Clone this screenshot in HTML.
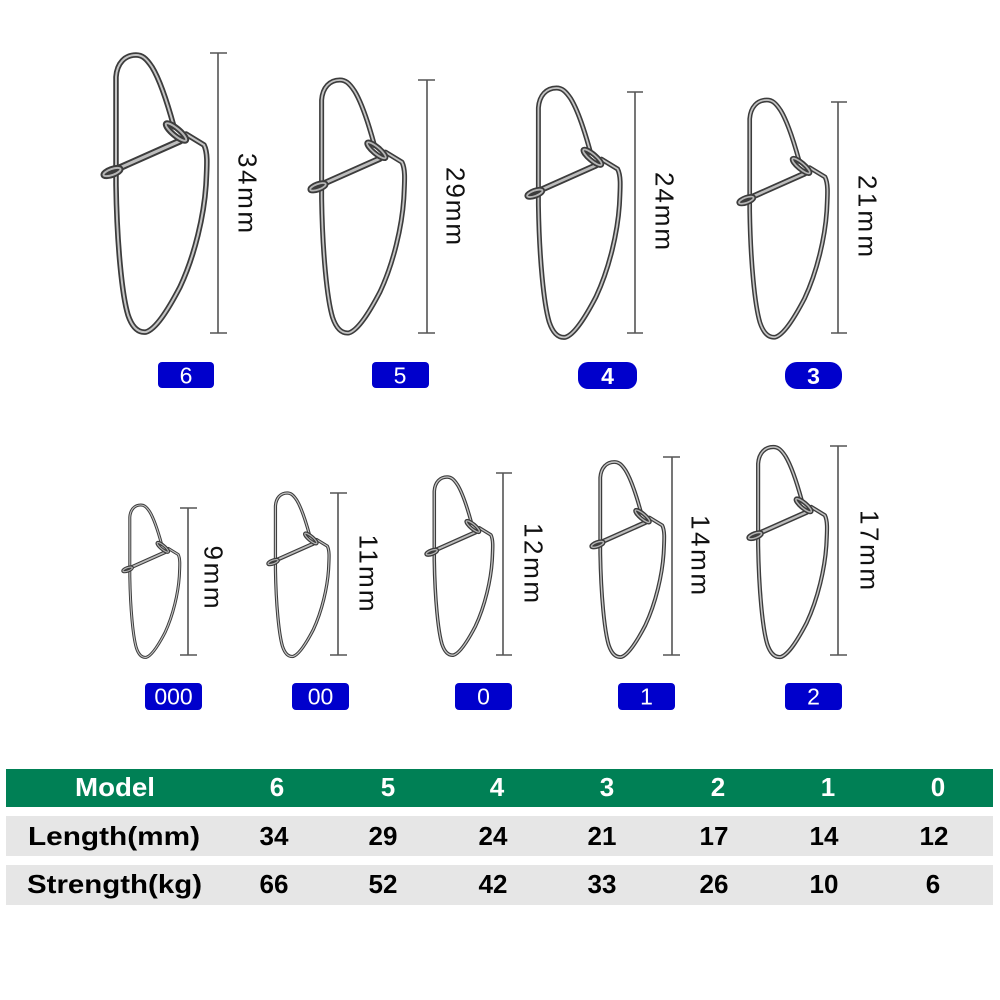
<!DOCTYPE html>
<html>
<head>
<meta charset="utf-8">
<style>
html,body{margin:0;padding:0;background:#fff;}
body{width:1000px;height:1000px;overflow:hidden;}
svg{display:block;}
.lbl{font-family:"Liberation Sans",sans-serif;font-size:26px;fill:#111;}
.bt{font-family:"Liberation Sans",sans-serif;font-size:23px;fill:#fff;}
.th{font-family:"Liberation Sans",sans-serif;font-size:26px;font-weight:bold;fill:#fff;}
.td{font-family:"Liberation Sans",sans-serif;font-size:26px;font-weight:bold;fill:#000;}
</style>
</head>
<body>
<svg width="1000" height="1000" viewBox="0 0 1000 1000" xmlns="http://www.w3.org/2000/svg">
<defs>
  <g id="wire">
    <path d="M74,72 C68,50 60,25 52,12 C46,3 42,0 36,0 C25,0 17,8 16,22 L16,130 C17,190 22,240 28,260 C32,272 38,278 46,277 C56,274 68,255 80,232 C95,200 104,160 106,130 C107,110 108,98 104,90 L86,79"/>
  </g>
  <g id="bar">
    <path d="M80,86 L8,118"/>
  </g>
  <g id="rings">
    <ellipse cx="76" cy="77" rx="13" ry="3.5" transform="rotate(40 76 77)"/>
    <ellipse cx="12" cy="117" rx="9" ry="3" transform="rotate(-20 12 117)"/>
  </g>
  <g id="snap" fill="none" stroke-linecap="round" stroke-linejoin="round">
    <use href="#wire" stroke="#3c3c3c" stroke-width="5.5"/>
    <use href="#wire" stroke="#c4c4c4" stroke-width="2"/>
    <use href="#bar" stroke="#3c3c3c" stroke-width="7"/>
    <use href="#bar" stroke="#bdbdbd" stroke-width="3"/>
    <use href="#rings" stroke="#3c3c3c" stroke-width="6"/>
    <use href="#rings" stroke="#b5b5b5" stroke-width="2"/>
  </g>
</defs>

<!-- Top row snaps -->
<use href="#snap" transform="translate(100,55) scale(1)"/>
<use href="#snap" transform="translate(307,80) scale(0.913)"/>
<use href="#snap" transform="translate(524,88) scale(0.9)"/>
<use href="#snap" transform="translate(736,100) scale(0.856)"/>

<!-- Bottom row snaps -->
<use href="#snap" transform="translate(121,505) scale(0.55)"/>
<use href="#snap" transform="translate(266,493) scale(0.59)"/>
<use href="#snap" transform="translate(424,477) scale(0.643)"/>
<use href="#snap" transform="translate(589,462) scale(0.704)"/>
<use href="#snap" transform="translate(746,447) scale(0.758)"/>

<!-- Measurement lines -->
<g stroke="#555" stroke-width="1.6" fill="none">
  <path d="M218,53 V333 M210,53 H227 M210,333 H227"/>
  <path d="M427,80 V333 M418,80 H435 M418,333 H435"/>
  <path d="M635,92 V333 M627,92 H643 M627,333 H643"/>
  <path d="M838,102 V333 M831,102 H847 M831,333 H847"/>
  <path d="M188,508 V655 M180,508 H197 M180,655 H197"/>
  <path d="M338,493 V655 M330,493 H347 M330,655 H347"/>
  <path d="M503,473 V655 M496,473 H512 M496,655 H512"/>
  <path d="M672,457 V655 M663,457 H680 M663,655 H680"/>
  <path d="M838,446 V655 M830,446 H847 M830,655 H847"/>
</g>

<!-- Rotated size labels -->
<text class="lbl" transform="translate(248,193) rotate(90)" y="9.3" text-anchor="middle" textLength="80" lengthAdjust="spacing">34mm</text>
<text class="lbl" transform="translate(456,206) rotate(90)" y="9.3" text-anchor="middle" textLength="78" lengthAdjust="spacing">29mm</text>
<text class="lbl" transform="translate(665,211) rotate(90)" y="9.3" text-anchor="middle" textLength="78" lengthAdjust="spacing">24mm</text>
<text class="lbl" transform="translate(868,216) rotate(90)" y="9.3" text-anchor="middle" textLength="82" lengthAdjust="spacing">21mm</text>
<text class="lbl" transform="translate(214,577) rotate(90)" y="9.3" text-anchor="middle" textLength="63" lengthAdjust="spacing">9mm</text>
<text class="lbl" transform="translate(369,573) rotate(90)" y="9.3" text-anchor="middle" textLength="77" lengthAdjust="spacing">11mm</text>
<text class="lbl" transform="translate(534,563) rotate(90)" y="9.3" text-anchor="middle" textLength="80" lengthAdjust="spacing">12mm</text>
<text class="lbl" transform="translate(701,555) rotate(90)" y="9.3" text-anchor="middle" textLength="80" lengthAdjust="spacing">14mm</text>
<text class="lbl" transform="translate(870,550) rotate(90)" y="9.3" text-anchor="middle" textLength="80" lengthAdjust="spacing">17mm</text>

<!-- Badges -->
<g fill="#0000cc">
  <rect x="158" y="362" width="56" height="26" rx="4"/>
  <rect x="372" y="362" width="57" height="26" rx="4"/>
  <rect x="578" y="362" width="59" height="27" rx="10"/>
  <rect x="785" y="362" width="57" height="27" rx="12"/>
  <rect x="145" y="683" width="57" height="27" rx="4"/>
  <rect x="292" y="683" width="57" height="27" rx="4"/>
  <rect x="455" y="683" width="57" height="27" rx="4"/>
  <rect x="618" y="683" width="57" height="27" rx="4"/>
  <rect x="785" y="683" width="57" height="27" rx="4"/>
</g>
<g text-anchor="middle">
  <text class="bt" x="186" y="383.5">6</text>
  <text class="bt" x="400" y="383.5">5</text>
  <text class="bt" x="607.5" y="384" font-weight="bold">4</text>
  <text class="bt" x="813.5" y="384" font-weight="bold">3</text>
  <text class="bt" x="173.5" y="704.5">000</text>
  <text class="bt" x="320.5" y="704.5">00</text>
  <text class="bt" x="483.5" y="704.5">0</text>
  <text class="bt" x="646.5" y="704.5">1</text>
  <text class="bt" x="813.5" y="704.5">2</text>
</g>

<!-- Table -->
<rect x="6" y="769" width="987" height="38" fill="#008055"/>
<rect x="6" y="816" width="987" height="40" fill="#e6e6e6"/>
<rect x="6" y="865" width="987" height="40" fill="#e6e6e6"/>

<text class="th" x="75" y="796" textLength="80" lengthAdjust="spacingAndGlyphs">Model</text>
<g text-anchor="middle">
  <text class="th" x="277" y="796">6</text>
  <text class="th" x="388" y="796">5</text>
  <text class="th" x="497" y="796">4</text>
  <text class="th" x="607" y="796">3</text>
  <text class="th" x="718" y="796">2</text>
  <text class="th" x="828" y="796">1</text>
  <text class="th" x="938" y="796">0</text>
</g>

<text class="td" x="28" y="845" textLength="172" lengthAdjust="spacingAndGlyphs">Length(mm)</text>
<g text-anchor="middle">
  <text class="td" x="274" y="845">34</text>
  <text class="td" x="383" y="845">29</text>
  <text class="td" x="493" y="845">24</text>
  <text class="td" x="602" y="845">21</text>
  <text class="td" x="714" y="845">17</text>
  <text class="td" x="824" y="845">14</text>
  <text class="td" x="934" y="845">12</text>
</g>

<text class="td" x="27" y="893" textLength="175" lengthAdjust="spacingAndGlyphs">Strength(kg)</text>
<g text-anchor="middle">
  <text class="td" x="274" y="893">66</text>
  <text class="td" x="383" y="893">52</text>
  <text class="td" x="493" y="893">42</text>
  <text class="td" x="602" y="893">33</text>
  <text class="td" x="714" y="893">26</text>
  <text class="td" x="824" y="893">10</text>
  <text class="td" x="933" y="893">6</text>
</g>
</svg>
</body>
</html>
